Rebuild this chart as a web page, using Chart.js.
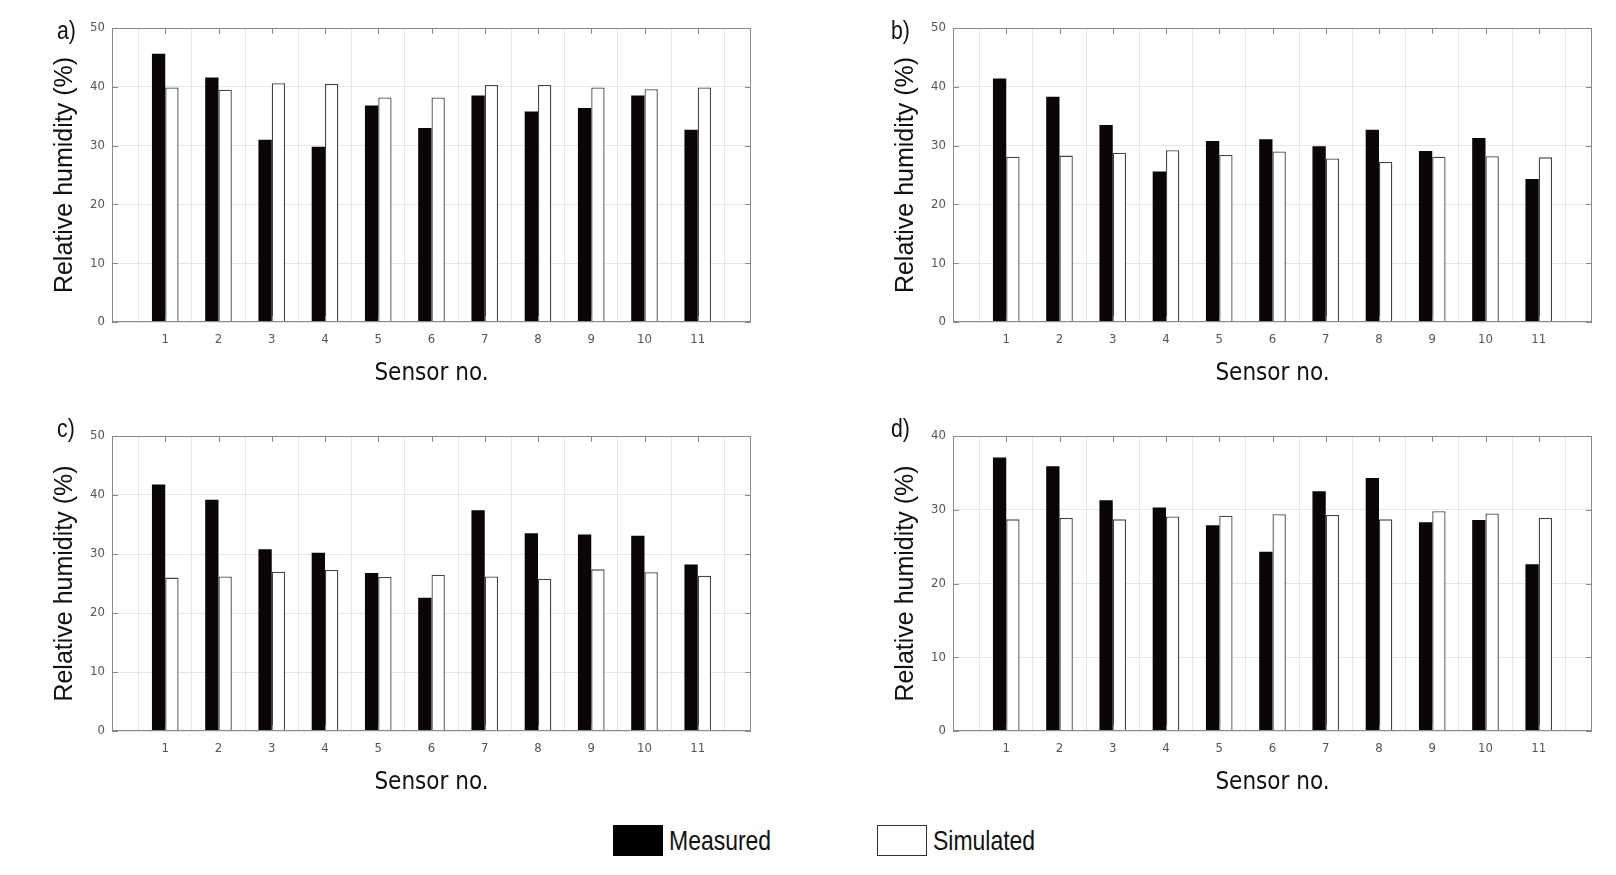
<!DOCTYPE html>
<html>
<head>
<meta charset="utf-8">
<script src="https://cdn.jsdelivr.net/npm/chart.js@4/dist/chart.umd.min.js"></script>
<style>
  body { margin: 0; background: #fff; width: 1616px; height: 875px; position: relative; overflow: hidden; }
  .panel { position: absolute; }
  .tag { position: absolute; font-family: "Liberation Sans", sans-serif; font-size: 25px; color: #111; line-height: 1; transform: scaleX(0.85); transform-origin: left top; }
  .legend { position: absolute; top: 825px; height: 31px; display: flex; align-items: center; font-family: "Liberation Sans", sans-serif; font-size: 28px; color: #111; }
  .legend span { display: inline-block; transform: scaleX(0.82); transform-origin: left center; }
  .box { width: 50px; height: 31px; box-sizing: border-box; margin-right: 6px; }
</style>
</head>
<body>
<div class="panel" style="left:0;top:0;width:790px;height:390px"><canvas id="chartA"></canvas></div>
<div class="panel" style="left:841px;top:0;width:775px;height:390px"><canvas id="chartB"></canvas></div>
<div class="panel" style="left:0;top:408px;width:790px;height:391px"><canvas id="chartC"></canvas></div>
<div class="panel" style="left:841px;top:408px;width:775px;height:391px"><canvas id="chartD"></canvas></div>

<div class="tag" style="left:57px;top:18px">a)</div>
<div class="tag" style="left:891px;top:18px">b)</div>
<div class="tag" style="left:57px;top:416px">c)</div>
<div class="tag" style="left:891px;top:416px">d)</div>

<div class="legend" style="left:613px"><div class="box" style="background:#000"></div><span>Measured</span></div>
<div class="legend" style="left:877px"><div class="box" style="background:#fff;border:1.5px solid #333"></div><span>Simulated</span></div>

<script>
const sensors = ["1", "2", "3", "4", "5", "6", "7", "8", "9", "10", "11"];

const measuredA  = [45.6, 41.6, 31.0, 29.8, 36.8, 33.0, 38.5, 35.8, 36.4, 38.5, 32.7];
const simulatedA = [39.9, 39.5, 40.6, 40.5, 38.2, 38.2, 40.3, 40.3, 39.9, 39.6, 39.9];

const measuredB  = [41.4, 38.3, 33.5, 25.6, 30.8, 31.1, 29.9, 32.7, 29.1, 31.3, 24.3];
const simulatedB = [28.1, 28.3, 28.8, 29.2, 28.4, 29.0, 27.8, 27.2, 28.1, 28.2, 28.0];

const measuredC  = [41.8, 39.2, 30.8, 30.2, 26.8, 22.6, 37.4, 33.5, 33.3, 33.1, 28.2];
const simulatedC = [26.0, 26.2, 27.0, 27.3, 26.1, 26.5, 26.2, 25.8, 27.4, 26.9, 26.3];

const measuredD  = [37.1, 35.9, 31.3, 30.3, 27.9, 24.3, 32.5, 34.3, 28.3, 28.6, 22.6];
const simulatedD = [28.7, 28.9, 28.7, 29.1, 29.2, 29.4, 29.3, 28.7, 29.8, 29.5, 28.9];

const narrow = "'DejaVu Sans Condensed', 'Liberation Sans', sans-serif";

// empty slot at each end so sensor 1 and 11 sit one step in from the box
const pad = arr => [null, ...arr, null];

// matlab style box with inward ticks
const boxPlugin = {
  id: "box",
  afterDraw(chart) {
    const { ctx, chartArea: a, scales } = chart;
    ctx.save();
    ctx.strokeStyle = "#8a8a8a";
    ctx.lineWidth = 1;
    ctx.strokeRect(a.left + 0.5, a.top + 0.5, a.right - a.left - 1, a.bottom - a.top - 1);
    ctx.beginPath();
    scales.x.ticks.forEach((t, i) => {
      if (i === 0 || i === scales.x.ticks.length - 1) return;
      const x = Math.round(scales.x.getPixelForTick(i)) + 0.5;
      ctx.moveTo(x, a.bottom); ctx.lineTo(x, a.bottom - 6);
      ctx.moveTo(x, a.top); ctx.lineTo(x, a.top + 6);
    });
    scales.y.ticks.forEach((t, i) => {
      const y = Math.round(scales.y.getPixelForTick(i)) + 0.5;
      ctx.moveTo(a.left, y); ctx.lineTo(a.left + 6, y);
      ctx.moveTo(a.right, y); ctx.lineTo(a.right - 6, y);
    });
    ctx.stroke();
    ctx.restore();
  }
};

function makePanel(id, measured, simulated, yMax, padRight) {
  new Chart(document.getElementById(id), {
    type: "bar",
    data: {
      labels: ["", ...sensors, ""],
      datasets: [
        {
          label: "Measured",
          data: pad(measured),
          backgroundColor: "#0b0606",
          borderWidth: 0,
          categoryPercentage: 0.5,
          barPercentage: 1.0,
        },
        {
          label: "Simulated",
          data: pad(simulated),
          backgroundColor: "#ffffff",
          borderColor: "#444444",
          borderWidth: 1.3,
          categoryPercentage: 0.5,
          barPercentage: 1.0,
        },
      ],
    },
    options: {
      responsive: true,
      maintainAspectRatio: false,
      animation: false,
      layout: { padding: { left: 0, top: 28, right: padRight, bottom: 0 } },
      plugins: {
        legend: { display: false },
        tooltip: { enabled: false },
      },
      scales: {
        x: {
          offset: false,
          grid: { color: "#e6e6e6", drawTicks: false },
          border: { display: false },
          ticks: { color: "#555", padding: 10, maxRotation: 0, autoSkip: false, font: { family: narrow, size: 13 } },
          title: { display: true, text: "Sensor no.", color: "#111", padding: { top: 0, bottom: 2 }, font: { family: narrow, size: 24 } },
          afterFit(scale) { scale.height = 68; },
        },
        y: {
          min: 0,
          max: yMax,
          ticks: { stepSize: 10, color: "#555", padding: 7, font: { family: narrow, size: 13 } },
          grid: { color: "#e6e6e6", drawTicks: false },
          border: { display: false },
          title: { display: true, text: "Relative humidity (%)", color: "#111", padding: { top: 50, bottom: 0 }, font: { family: "'Liberation Sans', Arial, sans-serif", size: 25 } },
          afterFit(scale) { scale.width = 112; },
        },
      },
    },
    plugins: [boxPlugin],
  });
}

makePanel("chartA", measuredA, simulatedA, 50, 39);
makePanel("chartB", measuredB, simulatedB, 50, 24);
makePanel("chartC", measuredC, simulatedC, 50, 39);
makePanel("chartD", measuredD, simulatedD, 40, 24);
</script>
</body>
</html>
